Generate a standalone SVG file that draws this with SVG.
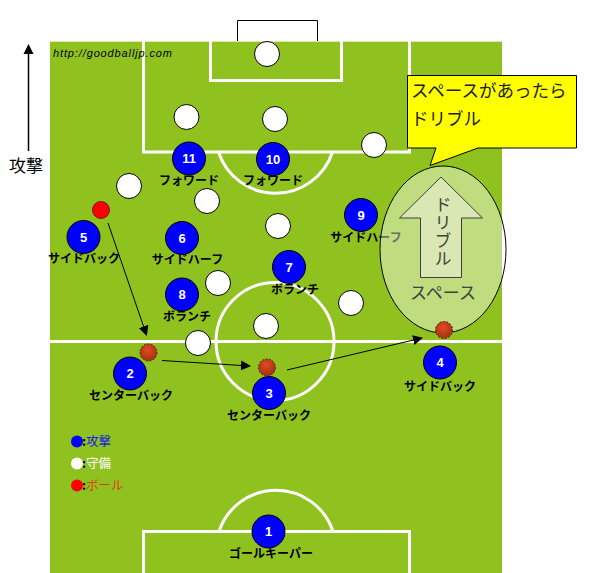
<svg xmlns="http://www.w3.org/2000/svg" width="589" height="573" viewBox="0 0 589 573">
<style>
.ln{fill:none;stroke:#fff;stroke-width:3}
.def{fill:#fff;stroke:#000;stroke-width:1}
.att{fill:#0000ff;stroke:#000;stroke-width:1}
.num{font-family:"Liberation Sans",Arial,sans-serif;font-weight:bold;font-size:13px;fill:#fff;text-anchor:middle}
.lbl{font-family:"Noto Sans CJK JP",sans-serif;font-weight:bold;font-size:12px;fill:#000;text-anchor:middle}
.ball{fill:url(#bg);stroke:#4a2010;stroke-width:1;stroke-dasharray:2 1.5}
.con{fill:none;stroke:#000;stroke-width:1}
.jp{font-family:"Noto Sans CJK JP",sans-serif}
</style>
<defs>
<marker id="ah" viewBox="0 0 10 10" refX="9" refY="5" markerWidth="10" markerHeight="10" markerUnits="userSpaceOnUse" orient="auto">
<path d="M0,0 L10,5 L0,10 z" fill="#000"/>
</marker>
<radialGradient id="bg" cx="0.45" cy="0.35" r="0.7">
<stop offset="0" stop-color="#e24a20"/>
<stop offset="1" stop-color="#9a3010"/>
</radialGradient>
</defs>
<rect width="589" height="573" fill="#fff"/>
<!-- pitch -->
<g id="pitch">
<rect x="50" y="41" width="452" height="532" fill="#8fc21f"/>
<line x1="50" y1="41.5" x2="502" y2="41.5" stroke="#d8ecb0" stroke-width="1"/>
<path class="ln" d="M143.5,41 V152 H409.5 V41"/>
<path class="ln" d="M210.5,41 V80.5 H341.5 V41"/>
<path class="ln" d="M218.5,152 A60,60 0 0 0 332.5,152"/>
<line class="ln" x1="50" y1="341.5" x2="502" y2="341.5"/>
<circle class="ln" cx="275" cy="341.5" r="59"/>
<path class="ln" d="M143.5,573 V531.5 H409.5 V573"/>
<path class="ln" d="M219,531.5 A60,60 0 0 1 333,531.5"/>
<path d="M237.5,41 V20.5 H317.5 V41" fill="#fff" stroke="#000" stroke-width="1"/>
<text x="53" y="57" font-family="Liberation Sans,Arial,sans-serif" font-style="italic" font-size="11" textLength="119" fill="#000">http://goodballjp.com</text>
</g>
<!-- attack direction -->
<g id="direction">
<line x1="28.5" y1="52" x2="28.5" y2="151" stroke="#000" stroke-width="1.5"/>
<path d="M23.5,54 L28.5,44 L33.5,54 z" fill="#000"/>
<text x="26" y="172" class="jp" font-size="17" text-anchor="middle" fill="#000">攻撃</text>
</g>
<!-- defenders -->
<g id="defenders">
<circle class="def" cx="267" cy="54" r="12.5"/>
<circle class="def" cx="186.5" cy="117" r="12.5"/>
<circle class="def" cx="275" cy="119" r="12.5"/>
<circle class="def" cx="374" cy="145" r="12.5"/>
<circle class="def" cx="129" cy="186" r="12.5"/>
<circle class="def" cx="207" cy="201" r="12.5"/>
<circle class="def" cx="278" cy="226" r="12.5"/>
<circle class="def" cx="218" cy="283" r="12.5"/>
<circle class="def" cx="266" cy="326" r="12.5"/>
<circle class="def" cx="198" cy="343" r="12.5"/>
<circle class="def" cx="351" cy="303" r="12.5"/>
</g>
<!-- attackers -->
<g id="p11"><circle class="att" cx="189" cy="158.5" r="16.5"/><text class="num" x="189" y="163">11</text><text class="lbl" x="189" y="185">フォワード</text></g>
<g id="p10"><circle class="att" cx="273" cy="159" r="16.5"/><text class="num" x="273" y="163.5">10</text><text class="lbl" x="273" y="185">フォワード</text></g>
<g id="p9"><circle class="att" cx="361" cy="215" r="16.5"/><text class="num" x="361" y="219.5">9</text><text class="lbl" x="366" y="241.5">サイドハーフ</text></g>
<g id="p5"><circle class="att" cx="83.5" cy="237" r="16.5"/><text class="num" x="83.5" y="241.5">5</text><text class="lbl" x="84" y="263">サイドバック</text></g>
<g id="p6"><circle class="att" cx="182" cy="238" r="16.5"/><text class="num" x="182" y="242.5">6</text><text class="lbl" x="187.5" y="263.5">サイドハーフ</text></g>
<g id="p7"><circle class="att" cx="289" cy="267" r="16.5"/><text class="num" x="289" y="271.5">7</text><text class="lbl" x="295" y="293.5">ボランチ</text></g>
<g id="p8"><circle class="att" cx="182" cy="294.5" r="16.5"/><text class="num" x="182" y="299">8</text><text class="lbl" x="187" y="320.5">ボランチ</text></g>
<g id="p2"><circle class="att" cx="130" cy="373.5" r="16.5"/><text class="num" x="130" y="378">2</text><text class="lbl" x="131" y="399.5">センターバック</text></g>
<g id="p3"><circle class="att" cx="269" cy="393" r="16.5"/><text class="num" x="269" y="397.5">3</text><text class="lbl" x="269" y="419.5">センターバック</text></g>
<g id="p4"><circle class="att" cx="440" cy="362.5" r="16.5"/><text class="num" x="440" y="367">4</text><text class="lbl" x="440" y="390.5">サイドバック</text></g>
<g id="p1"><circle class="att" cx="268.5" cy="531.5" r="16.5"/><text class="num" x="268.5" y="536">1</text><text class="lbl" x="271" y="557.5">ゴールキーパー</text></g>
<!-- space ellipse -->
<g id="space">
<ellipse cx="443" cy="249.5" rx="63" ry="83.5" fill="#fff" fill-opacity="0.43" stroke="#000" stroke-width="1"/>
<path d="M441,177 L482.5,218 H461.5 V277.5 H420.5 V218 H399.5 z" fill="#d9e8b2" stroke="#404040" stroke-width="1"/>
<text x="443" y="196" class="jp" font-size="17" fill="#404040" writing-mode="vertical-rl" letter-spacing="1">ドリブル</text>
<text x="443" y="299" class="jp" font-size="17" fill="#404040" text-anchor="middle">スペース</text>
</g>
<!-- balls -->
<g id="balls">
<circle cx="101" cy="210" r="8.5" fill="#ff0000" stroke="#600" stroke-width="0.8"/>
<circle class="ball" cx="148.5" cy="352.5" r="8.5"/>
<circle class="ball" cx="267" cy="367.5" r="8.5"/>
<circle class="ball" cx="444" cy="330" r="8.5"/>
</g>
<!-- connectors -->
<g id="connectors">
<line class="con" x1="108" y1="223" x2="146.5" y2="335" marker-end="url(#ah)"/>
<line class="con" x1="162" y1="360.5" x2="250" y2="366" marker-end="url(#ah)"/>
<line class="con" x1="287" y1="370" x2="422" y2="338" marker-end="url(#ah)"/>
</g>
<!-- callout -->
<g id="callout">
<path d="M407.5,75.5 H576.5 V148 H478 L430,165.5 L436,148 H407.5 z" fill="#ffff00" stroke="#000" stroke-width="1"/>
<text x="411" y="97" class="jp" font-size="17.5" fill="#222">スペースがあったら</text>
<text x="411" y="125" class="jp" font-size="17.5" fill="#222">ドリブル</text>
</g>
<!-- legend -->
<g id="legend" class="jp" font-size="12.5">
<circle cx="77" cy="441.5" r="6" fill="#0000ff"/>
<text x="82" y="446" fill="#1a1ae0"><tspan font-weight="bold" fill="#000">:</tspan>攻撃</text>
<circle cx="77" cy="463.5" r="6" fill="#fff"/>
<text x="82" y="468" fill="#fff"><tspan font-weight="bold" fill="#000">:</tspan>守備</text>
<circle cx="77" cy="485.5" r="6" fill="#ff0000"/>
<text x="82" y="490" fill="#e03a10"><tspan font-weight="bold" fill="#000">:</tspan>ボール</text>
</g>
</svg>
